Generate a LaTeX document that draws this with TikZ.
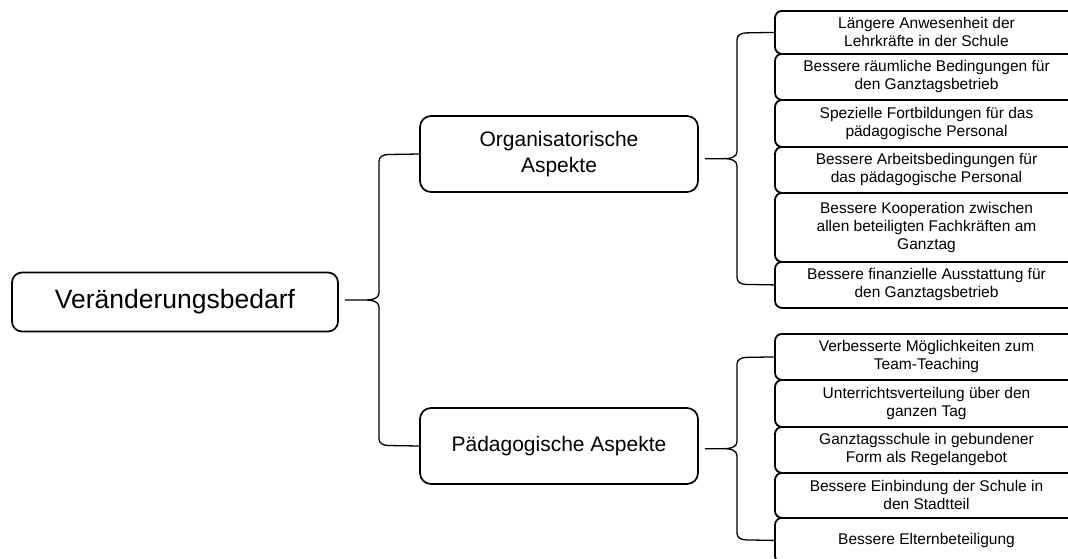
\documentclass[tikz,border=0pt]{standalone}
\usepackage{fontspec}
\setmainfont{Liberation Sans}
\usetikzlibrary{calc}

\tikzset{
  rootbox/.style={draw, line width=1.7pt, rounded corners=10pt, minimum width=326pt,
    minimum height=59pt, inner sep=0pt, align=center, font=\fontsize{26.5}{32}\selectfont},
  midbox/.style={draw, line width=1.7pt, rounded corners=11pt, minimum width=278pt,
    minimum height=76pt, inner sep=0pt, align=center, font=\fontsize{21}{26}\selectfont},
  leafbox/.style={draw, line width=1.8pt, rounded corners=7pt, minimum width=303pt,
    inner sep=0pt, anchor=north, align=center, font=\fontsize{15.5}{18}\selectfont},
  bracelink/.style={line width=1.3pt, line join=round}
}

% curly brace from a parent box to the first and last child of a column;
% #1 parent, #2 first child, #3 last child, #4 x of the vertical stroke (pt)
\newcommand\bracelink[4]{%
  \draw[bracelink] let \p1=(#2.west), \p2=(#3.west), \p3=(#1.east),
      \n1={(\y1+\y2)/2} in
    (\x1,\y1) -- (#4pt+9pt,\y1-0.5pt) to[out=180,in=90] (#4pt,\y1-7pt)
    -- (#4pt,\n1+7pt) to[out=-90,in=0] (#4pt-13pt,\n1)
    to[out=0,in=90] (#4pt,\n1-7pt)
    -- (#4pt,\y2+7pt) to[out=-90,in=180] (#4pt+9pt,\y2+0.5pt) -- (\x2,\y2)
    (\x3+6pt,\n1) -- (#4pt-13pt,\n1);%
}

\begin{document}
\begin{tikzpicture}[x=1pt,y=-1pt]
\useasboundingbox (0,0) rectangle (1068,558);
\clip (0,0) rectangle (1068,558);

\node[rootbox] (root) at (175,302) {Veränderungsbedarf};
\node[midbox] (org) at (559,154) {Organisatorische\\Aspekte};
\node[midbox] (paed) at (559,446) {Pädagogische Aspekte};

% organisational column
\node[leafbox, minimum height=43pt] (o1) at (926.5,10) {Längere Anwesenheit der\\Lehrkräfte in der Schule};
\node[leafbox, minimum height=46pt] (o2) at (926.5,53) {Bessere räumliche Bedingungen für\\den Ganztagsbetrieb};
\node[leafbox, minimum height=47pt] (o3) at (926.5,99) {Spezielle Fortbildungen für das\\pädagogische Personal};
\node[leafbox, minimum height=46pt] (o4) at (926.5,146) {Bessere Arbeitsbedingungen für\\das pädagogische Personal};
\node[leafbox, minimum height=69pt] (o5) at (926.5,192) {Bessere Kooperation zwischen\\allen beteiligten Fachkräften am\\Ganztag};
\node[leafbox, minimum height=46pt] (o6) at (926.5,261) {Bessere finanzielle Ausstattung für\\den Ganztagsbetrieb};

% pedagogical column
\node[leafbox, minimum height=46pt] (p1) at (926.5,333) {Verbesserte Möglichkeiten zum\\Team-Teaching};
\node[leafbox, minimum height=47pt] (p2) at (926.5,379) {Unterrichtsverteilung über den\\ganzen Tag};
\node[leafbox, minimum height=46pt] (p3) at (926.5,426) {Ganztagsschule in gebundener\\Form als Regelangebot};
\node[leafbox, minimum height=45pt] (p4) at (926.5,472) {Bessere Einbindung der Schule in\\den Stadtteil};
\node[leafbox, minimum height=45pt] (p5) at (926.5,517) {Bessere Elternbeteiligung};

\bracelink{root}{org}{paed}{379}
\bracelink{org}{o1}{o6}{737}
\bracelink{paed}{p1}{p5}{737}
\end{tikzpicture}
\end{document}
